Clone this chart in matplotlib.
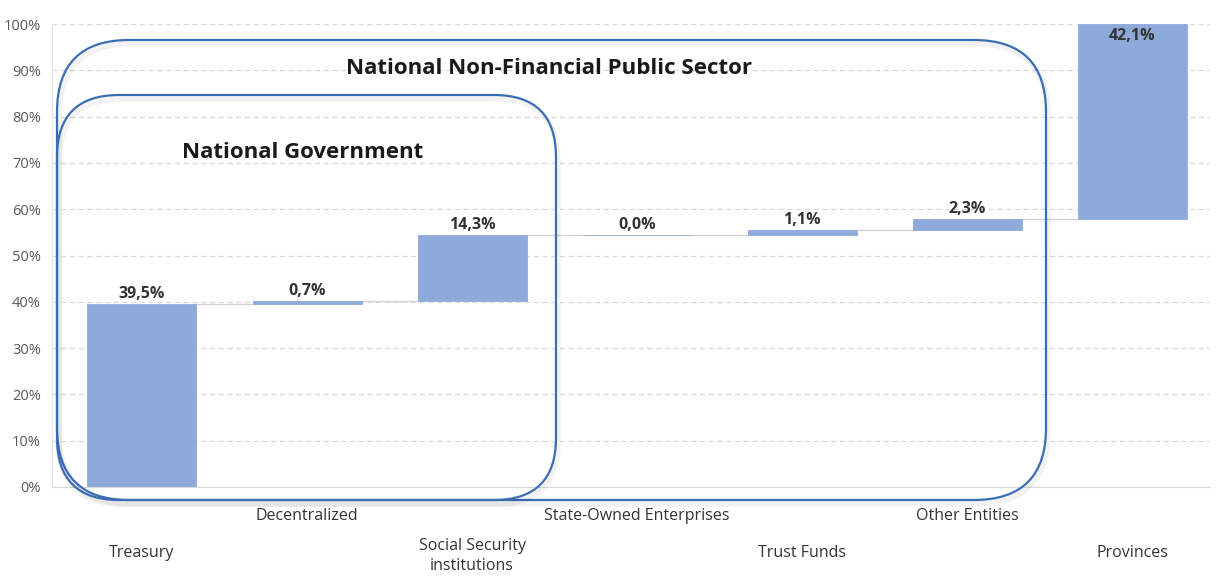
import matplotlib.pyplot as plt
from matplotlib.patches import FancyBboxPatch
from matplotlib.ticker import FuncFormatter
import numpy as np

plt.rcParams['font.family'] = ['Open Sans', 'DejaVu Sans']

categories = ['Treasury', 'Decentralized', 'Social Security\ninstitutions',
              'State-Owned Enterprises', 'Trust Funds', 'Other Entities', 'Provinces']
shares = [39.5, 0.7, 14.3, 0.0, 1.1, 2.3, 42.1]
share_labels = ['39,5%', '0,7%', '14,3%', '0,0%', '1,1%', '2,3%', '42,1%']
yticks = [0, 10, 20, 30, 40, 50, 60, 70, 80, 90, 100]

BAR_COLOR = '#8eaadb'
BOX_COLOR = '#3b6db5'
TEXT_DARK = '#333333'

fig = plt.figure(figsize=(12.18, 5.8), dpi=100)
fig.patch.set_facecolor('white')
ax = fig.add_axes([52 / 1218, 93 / 580, 1158 / 1218, 463 / 580])

x = np.arange(len(shares))
tops = np.cumsum(shares)
bottoms = tops - np.array(shares)
width = 0.66

ax.bar(x, shares, bottom=bottoms, width=width, color=BAR_COLOR,
       edgecolor=BAR_COLOR, linewidth=0.6, zorder=3)

# connectors between consecutive bars
for i in range(len(shares) - 1):
    ax.plot([x[i] + width / 2, x[i + 1] - width / 2], [tops[i], tops[i]],
            color='#d4d4d4', lw=1, zorder=2)

# value labels
for i, lab in enumerate(share_labels):
    if i == len(shares) - 1:
        ax.text(x[i], tops[i] - 0.8, lab, ha='center', va='top',
                fontsize=11.5, fontweight='bold', color=TEXT_DARK, zorder=4)
    else:
        ax.text(x[i], tops[i] + 0.4, lab, ha='center', va='bottom',
                fontsize=11.5, fontweight='bold', color=TEXT_DARK, zorder=4)

ax.set_xlim(-0.545, 6.47)
ax.set_ylim(0, 100)
ax.set_yticks(yticks)
ax.yaxis.set_major_formatter(FuncFormatter(lambda v, p: f'{v:.0f}%'))
ax.tick_params(axis='y', length=0, labelsize=10.5, labelcolor='#595959', pad=8)
ax.set_xticks([])
ax.grid(axis='y', color='#d9d9d9', linestyle=(0, (4, 3)), lw=0.9, zorder=0)
for side in ['top', 'right']:
    ax.spines[side].set_visible(False)
ax.spines['left'].set_color('#e6e6e6')
ax.spines['bottom'].set_color('#d9d9d9')

# staggered category labels under the bars
for i, cat in enumerate(categories):
    y_off = -6.3 if i % 2 == 1 else -14.2
    if '\n' in cat:
        y_off = -14.9
    ax.text(x[i], y_off, cat, ha='center', va='center', fontsize=11.5,
            color=TEXT_DARK, linespacing=1.4,
            bbox=dict(facecolor='white', edgecolor='none', pad=2), zorder=6)

# pixel-space overlay for the grouping boxes
ov = fig.add_axes([0, 0, 1, 1], facecolor='none')
ov.set_xlim(0, 1218)
ov.set_ylim(580, 0)
ov.axis('off')

boxes = [((57, 40), 989, 460, 72), ((57, 95), 499, 405, 62)]
for (bx, by), bw, bh, r in boxes:
    shadow = FancyBboxPatch((bx + 2, by + 4), bw, bh,
                            boxstyle=f'round,pad=0,rounding_size={r}',
                            fill=False, ec='#000000', lw=4, alpha=0.05)
    ov.add_patch(shadow)
    box = FancyBboxPatch((bx, by), bw, bh,
                         boxstyle=f'round,pad=0,rounding_size={r}',
                         fill=False, ec=BOX_COLOR, lw=1.6)
    ov.add_patch(box)

ov.text(549, 69, 'National Non-Financial Public Sector', ha='center', va='center',
        fontsize=16, fontweight='bold', color='#1a1a1a')
ov.text(303, 152, 'National Government', ha='center', va='center',
        fontsize=16, fontweight='bold', color='#1a1a1a')

fig.savefig('out.png', dpi=100, facecolor=fig.get_facecolor())
